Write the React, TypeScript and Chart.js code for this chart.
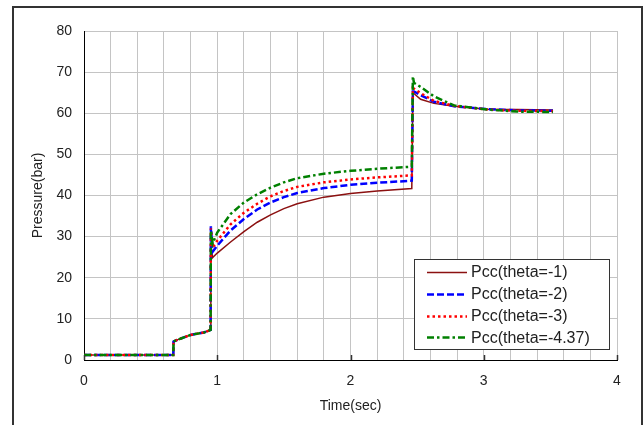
import { useEffect, useRef } from 'react';
import { Chart, registerables } from 'chart.js';

Chart.register(...registerables);

// ---- data ----
const timeSec = [0, 0.67, 0.672, 0.7, 0.75, 0.8, 0.9, 0.95, 0.952, 0.965, 1.0, 1.1, 1.2, 1.3, 1.4, 1.5, 1.6, 1.8, 2.0, 2.2, 2.46, 2.468, 2.476, 2.526, 2.626, 2.777, 3.028, 3.25, 3.52];
const pccTheta1 = [1.2, 1.2, 4.5, 4.9, 5.5, 6.1, 6.7, 7.3, 28, 24.9, 26, 28.7, 31.2, 33.5, 35.3, 36.8, 38, 39.6, 40.5, 41.1, 41.7, 65, 64.8, 63.4, 62.4, 61.7, 61, 60.9, 60.8];
const pccTheta2 = [1.2, 1.2, 4.5, 4.9, 5.5, 6.1, 6.7, 7.3, 32.5, 26.3, 27.8, 31.5, 34.3, 36.6, 38.3, 39.6, 40.6, 41.8, 42.6, 43.1, 43.6, 65.3, 65.3, 64.4, 62.8, 61.7, 61, 60.7, 60.6];
const pccTheta3 = [1.2, 1.2, 4.5, 4.9, 5.5, 6.1, 6.7, 7.3, 32, 27.3, 29, 33, 35.8, 38, 39.8, 41.1, 42.1, 43.2, 43.9, 44.4, 44.9, 66.1, 66, 64.9, 63, 61.8, 60.9, 60.6, 60.5];
const pccTheta437 = [1.2, 1.2, 4.5, 4.9, 5.5, 6.1, 6.7, 7.3, 31.5, 28.3, 31, 35.5, 38.3, 40.3, 41.9, 43.2, 44.2, 45.3, 46, 46.5, 47, 69, 67.4, 66.4, 64.1, 61.9, 60.9, 60.4, 60.3];

const seriesLabels = ['Pcc(theta=-1)', 'Pcc(theta=-2)', 'Pcc(theta=-3)', 'Pcc(theta=-4.37)'];
const seriesValues = [pccTheta1, pccTheta2, pccTheta3, pccTheta437];
const seriesColors = ['#8B1010', '#0000FF', '#FF0000', '#008000'];
const seriesDashes: number[][] = [[], [7, 3], [2.5, 3], [7, 3, 2.5, 3]];
const seriesWidths = [1.5, 2.5, 2.5, 2.5];

const xGridValues = [0, 0.2, 0.4, 0.6, 0.8, 1, 1.2, 1.4, 1.6, 1.8, 2, 2.2, 2.4, 2.6, 2.8, 3, 3.2, 3.4, 3.6, 3.8, 4];
const xTickLabels = ['0', '1', '2', '3', '4'];
const yTickValues = [0, 10, 20, 30, 40, 50, 60, 70, 80];

const FONT = "'Liberation Sans', Arial, sans-serif";

const isWhole = (v: number) => Math.abs(v - Math.round(v)) < 1e-6;

const framePlugin = {
  id: 'frameAndLegend',
  afterDraw(chart: any) {
    const { ctx, chartArea } = chart;
    ctx.save();
    // inside tick marks on x axis at integers
    ctx.strokeStyle = '#333';
    ctx.lineWidth = 1.5;
    const xs = chart.scales.x;
    xTickLabels.forEach((_, i) => {
      const px = Math.round(xs.getPixelForValue(i)) + 0.5;
      ctx.beginPath();
      ctx.moveTo(px, chartArea.bottom);
      ctx.lineTo(px, chartArea.bottom - 5);
      ctx.stroke();
    });
    // outer frame
    ctx.strokeStyle = '#333';
    ctx.lineWidth = 2;
    ctx.beginPath();
    ctx.moveTo(13, 440);
    ctx.lineTo(13, 7);
    ctx.lineTo(642, 7);
    ctx.lineTo(642, 440);
    ctx.stroke();
    // legend box
    const lx = 414.5, ly = 259.5, lw = 195, lh = 90;
    ctx.fillStyle = '#fff';
    ctx.fillRect(lx, ly, lw, lh);
    ctx.strokeStyle = '#333';
    ctx.lineWidth = 1;
    ctx.setLineDash([]);
    ctx.strokeRect(lx, ly, lw, lh);
    ctx.font = `16px ${FONT}`;
    ctx.textBaseline = 'middle';
    ctx.textAlign = 'left';
    seriesLabels.forEach((label, i) => {
      const cy = 272 + i * 21.8;
      ctx.strokeStyle = seriesColors[i];
      ctx.lineWidth = seriesWidths[i];
      ctx.setLineDash(seriesDashes[i]);
      ctx.beginPath();
      ctx.moveTo(427, Math.round(cy) + 0.5);
      ctx.lineTo(467, Math.round(cy) + 0.5);
      ctx.stroke();
      ctx.setLineDash([]);
      ctx.fillStyle = '#222';
      ctx.fillText(label, 471, cy + 1);
    });
    ctx.restore();
  },
};

export default function App() {
  const canvasRef = useRef<HTMLCanvasElement | null>(null);

  useEffect(() => {
    const canvas = canvasRef.current;
    if (!canvas) return;
    const datasets = seriesLabels.map((label, i) => ({
      label,
      data: timeSec.map((t, j) => ({ x: t, y: seriesValues[i][j] })),
      borderColor: seriesColors[i],
      backgroundColor: seriesColors[i],
      borderWidth: seriesWidths[i],
      borderDash: seriesDashes[i],
      pointRadius: 0,
      tension: 0,
      fill: false,
      order: seriesLabels.length - i,
    }));
    const chart = new Chart(canvas, {
      type: 'line',
      data: { datasets },
      plugins: [framePlugin],
      options: {
        animation: false,
        responsive: false,
        maintainAspectRatio: false,
        layout: { padding: { left: 0, right: 27, top: 31, bottom: 0 } },
        plugins: { legend: { display: false }, tooltip: { enabled: false } },
        scales: {
          x: {
            type: 'linear',
            min: 0,
            max: 4,
            afterBuildTicks: (scale: any) => {
              scale.ticks = xGridValues.map((v) => ({ value: v }));
            },
            afterFit: (scale: any) => {
              scale.height = 65;
            },
            ticks: {
              autoSkip: false,
              maxRotation: 0,
              padding: 13,
              color: '#222',
              font: { family: FONT, size: 14 },
              callback: (v: any) => (isWhole(Number(v)) ? String(Math.round(Number(v))) : ''),
            },
            grid: { color: '#c4c4c4', drawTicks: false, lineWidth: 1 },
            border: { color: '#000', width: 1 },
            title: {
              display: true,
              text: 'Time(sec)',
              color: '#222',
              font: { family: FONT, size: 14 },
              padding: { top: 0, bottom: 10 },
            },
          },
          y: {
            type: 'linear',
            min: 0,
            max: 80,
            afterBuildTicks: (scale: any) => {
              scale.ticks = yTickValues.map((v) => ({ value: v }));
            },
            afterFit: (scale: any) => {
              scale.width = 84;
            },
            ticks: {
              padding: 12,
              color: '#222',
              font: { family: FONT, size: 14 },
              callback: (v: any) => String(v),
            },
            grid: { color: '#c4c4c4', drawTicks: false, lineWidth: 1 },
            border: { color: '#000', width: 1 },
            title: {
              display: true,
              text: 'Pressure(bar)',
              color: '#222',
              font: { family: FONT, size: 14 },
              padding: { top: 30, bottom: 0 },
            },
          },
        },
      },
    });
    return () => chart.destroy();
  }, []);

  return (
    <div style={{ position: 'fixed', left: 0, top: 0, width: 644, height: 425, background: '#fff' }}>
      <canvas ref={canvasRef} width={644} height={425} style={{ width: 644, height: 425, display: 'block' }} />
    </div>
  );
}
